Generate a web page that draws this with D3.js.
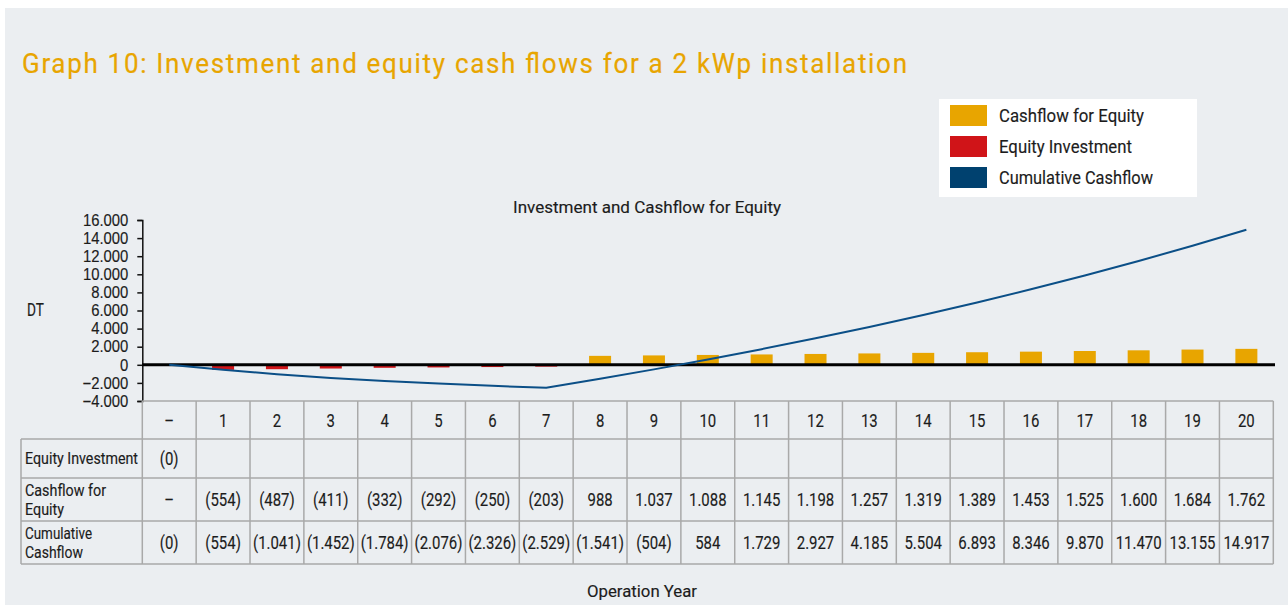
<!DOCTYPE html>
<html>
<head>
<meta charset="utf-8">
<script src="https://cdn.jsdelivr.net/npm/d3@7"></script>
<style>
  body { margin: 0; background: #ffffff; }
  svg { display: block; font-family: Roboto, "Liberation Sans", Arial, sans-serif; }
</style>
</head>
<body>
<div id="chart"></div>
<script>
// ----- data -----
var years = ["-", "1", "2", "3", "4", "5", "6", "7", "8", "9", "10",
    "11", "12", "13", "14", "15", "16", "17", "18", "19", "20"];
var cashflowEquity = [0, -554, -487, -411, -332, -292, -250, -203, 988, 1037, 1088,
    1145, 1198, 1257, 1319, 1389, 1453, 1525, 1600, 1684, 1762];
var equityInvestment = [0];
var cumulativeCashflow = [0, -554, -1041, -1452, -1784, -2076, -2326, -2529, -1541, -504, 584,
    1729, 2927, 4185, 5504, 6893, 8346, 9870, 11470, 13155, 14917];
var yTicks = [-4000, -2000, 0, 2000, 4000, 6000, 8000, 10000, 12000, 14000, 16000];
var legendLabels = ["Cashflow for Equity", "Equity Investment", "Cumulative Cashflow"];

// ----- colours -----
var colYellow = "#e8a500";
var colRed = "#d01418";
var colBlue = "#00416f";
var colLine = "#0b4f87";
var colGrid = "#a9a9a9";
var colText = "#1c1c1c";

const size = { width: 1288, height: 605 };
const squeeze = 0.83; // narrow the sans font to look like the DIN style of the original

var locale = d3.formatLocale({ decimal: ",", thousands: ".", grouping: [3], currency: ["", ""], minus: "\u2212" });
var numFormat = locale.format(",.0f");

// negative values in brackets, zero shown with a text of its own
function cellText(v, zeroText) {
    if (v === 0) return zeroText;
    if (v < 0) return "(" + numFormat(-v) + ")";
    return numFormat(v);
}

// narrow text helper (a faint stroke thickens the glyphs a little)
function narrowText(parent, txt, x, y, fontSize, anchor, width, sx) {
    sx = sx || squeeze;
    var t = parent.append("text")
        .attr("transform", "translate(" + x + "," + y + ") scale(" + sx + ",1)")
        .attr("font-size", fontSize)
        .attr("fill", colText)
        .attr("stroke", colText)
        .attr("stroke-width", 0.15)
        .attr("text-anchor", anchor || "start")
        .text(txt);
    if (width) t.attr("textLength", width / sx).attr("lengthAdjust", "spacingAndGlyphs");
    return t;
}

var svg = d3.select("#chart")
    .append("svg")
    .attr("width", size.width)
    .attr("height", size.height);

// panel background
svg.append("rect")
    .attr("x", 5).attr("y", 8)
    .attr("width", size.width - 5).attr("height", size.height - 8)
    .attr("fill", "#ebeef1");

// title
narrowText(svg, "Graph 10: Investment and equity cash flows for a 2 kWp installation", 22, 73, 28, "start", null, 0.93)
    .attr("fill", colYellow)
    .attr("stroke", colYellow)
    .attr("stroke-width", 0.2)
    .attr("textLength", 885 / 0.93)
    .attr("lengthAdjust", "spacing");

// ----- scales -----
var x_scale = d3.scaleBand()
    .domain(years)
    .range([142.3, 1273.3]);

var y_scale = d3.scaleLinear()
    .domain([-4000, 16000])
    .range([401, 220]);

// y axis
var y_axis = d3.axisLeft(y_scale)
    .tickValues(yTicks)
    .tickSize(5)
    .tickFormat(numFormat);

var gy = svg.append("g")
    .attr("transform", "translate(142.3,0)")
    .call(y_axis);
gy.select(".domain").attr("stroke", "#111").attr("stroke-width", 1.5);
gy.selectAll(".tick line").attr("stroke", "#111").attr("stroke-width", 1.5);
gy.selectAll(".tick text")
    .attr("x", 0)
    .attr("transform", "translate(-14,0) scale(0.9,1)")
    .attr("fill", colText)
    .attr("stroke", colText)
    .attr("stroke-width", 0.15)
    .attr("font-size", 16.5)
    .attr("font-family", null);

narrowText(svg, "DT", 27, 316, 18, "start", 17);

// chart title
narrowText(svg, "Investment and Cashflow for Equity", 647, 213, 17, "middle", 268);

// ----- bars -----
var barWidth = 22;
svg.append("g")
    .selectAll("rect")
    .data(cashflowEquity.map(function (v, i) { return { year: years[i], value: v }; })
        .filter(function (d) { return d.value !== 0; }))
    .join("rect")
    .attr("x", function (d) { return x_scale(d.year) + x_scale.bandwidth() / 2 - barWidth / 2; })
    .attr("y", function (d) { return y_scale(Math.max(0, d.value)); })
    .attr("width", barWidth)
    .attr("height", function (d) { return Math.abs(y_scale(d.value) - y_scale(0)); })
    .attr("fill", function (d) { return d.value < 0 ? colRed : colYellow; });

// zero line
svg.append("line")
    .attr("x1", 142.3).attr("x2", 1275)
    .attr("y1", y_scale(0)).attr("y2", y_scale(0))
    .attr("stroke", "#000")
    .attr("stroke-width", 3);

// cumulative line
svg.append("path")
    .datum(cumulativeCashflow)
    .attr("fill", "none")
    .attr("stroke", colLine)
    .attr("stroke-width", 2)
    .attr("d", d3.line()
        .x(function (d, i) { return x_scale(years[i]) + x_scale.bandwidth() / 2; })
        .y(function (d) { return y_scale(d); })
    );

// ----- legend -----
var legend = svg.append("g");
legend.append("rect")
    .attr("x", 939).attr("y", 99)
    .attr("width", 258).attr("height", 98)
    .attr("fill", "#ffffff");
var legendColors = [colYellow, colRed, colBlue];
var legendWidths = [145, 133, 154];
legendLabels.forEach(function (label, i) {
    legend.append("rect")
        .attr("x", 950).attr("y", 105 + i * 31)
        .attr("width", 37).attr("height", 21)
        .attr("fill", legendColors[i]);
    narrowText(legend, label, 999, 122 + i * 31, 17.5, "start", legendWidths[i]);
});

// ----- data table -----
var rowTops = [401, 439, 478, 521, 564];
var labelLeft = 21;
var tableRight = 1273.3;
var table = svg.append("g");

// horizontal lines
rowTops.forEach(function (yy, i) {
    table.append("line")
        .attr("x1", i === 0 ? 142.3 : labelLeft).attr("x2", tableRight)
        .attr("y1", yy).attr("y2", yy)
        .attr("stroke", colGrid).attr("stroke-width", 1.5);
});
// vertical lines
table.append("line")
    .attr("x1", labelLeft).attr("x2", labelLeft)
    .attr("y1", rowTops[1]).attr("y2", rowTops[4])
    .attr("stroke", colGrid).attr("stroke-width", 1.5);
years.forEach(function (yr) {
    table.append("line")
        .attr("x1", x_scale(yr)).attr("x2", x_scale(yr))
        .attr("y1", rowTops[0]).attr("y2", rowTops[4])
        .attr("stroke", colGrid).attr("stroke-width", 1.5);
});
table.append("line")
    .attr("x1", tableRight).attr("x2", tableRight)
    .attr("y1", rowTops[0]).attr("y2", rowTops[4])
    .attr("stroke", colGrid).attr("stroke-width", 1.5);

function cellRow(texts, rowIndex) {
    var yMid = (rowTops[rowIndex] + rowTops[rowIndex + 1]) / 2;
    texts.forEach(function (d, i) {
        narrowText(table, d, x_scale(years[i]) + x_scale.bandwidth() / 2, yMid + 6.5, 18, "middle");
    });
}

cellRow(years.map(function (y) { return y === "-" ? "\u2013" : y; }), 0);
cellRow(equityInvestment.map(function (v) { return cellText(v, "(0)"); }), 1);
cellRow(cashflowEquity.map(function (v) { return cellText(v, "\u2013"); }), 2);
cellRow(cumulativeCashflow.map(function (v) { return cellText(v, "(0)"); }), 3);

// row labels
var rowLabels = [["Equity Investment"], ["Cashflow for", "Equity"], ["Cumulative", "Cashflow"]];
var rowLabelWidths = [[113], [81, 39], [67, 58]];
rowLabels.forEach(function (lines, r) {
    var yMid = (rowTops[r + 1] + rowTops[r + 2]) / 2;
    lines.forEach(function (ln, k) {
        narrowText(table, ln, 25, yMid + 5.5 + (k - (lines.length - 1) / 2) * 19, 16, "start", rowLabelWidths[r][k]);
    });
});

// x title
narrowText(svg, "Operation Year", 642, 597, 17, "middle", 110);
</script>
</body>
</html>
